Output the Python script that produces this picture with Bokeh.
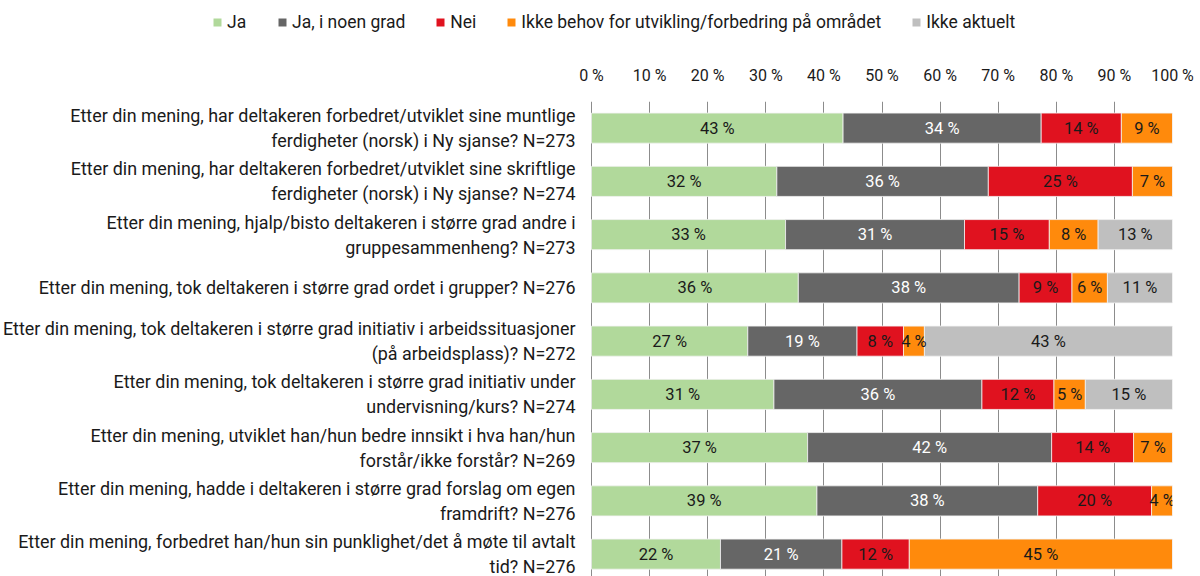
from bokeh.plotting import figure
from bokeh.layouts import column
from bokeh.models import ColumnDataSource, Range1d, FixedTicker, Legend, LegendItem, PrintfTickFormatter
from bokeh.core.properties import value
from bokeh.embed import file_html
from bokeh.resources import INLINE

questions = [
    "Etter din mening, har deltakeren forbedret/utviklet sine muntlige\nferdigheter (norsk) i Ny sjanse? N=273",
    "Etter din mening, har deltakeren forbedret/utviklet sine skriftlige\nferdigheter (norsk) i Ny sjanse? N=274",
    "Etter din mening, hjalp/bisto deltakeren i større grad andre i\ngruppesammenheng? N=273",
    "Etter din mening, tok deltakeren i større grad ordet i grupper? N=276",
    "Etter din mening, tok deltakeren i større grad initiativ i arbeidssituasjoner\n(på arbeidsplass)? N=272",
    "Etter din mening, tok deltakeren i større grad initiativ under\nundervisning/kurs? N=274",
    "Etter din mening, utviklet han/hun bedre innsikt i hva han/hun\nforstår/ikke forstår? N=269",
    "Etter din mening, hadde i deltakeren i større grad forslag om egen\nframdrift? N=276",
    "Etter din mening, forbedret han/hun sin punklighet/det å møte til avtalt\ntid? N=276",
]
series = ["Ja", "Ja, i noen grad", "Nei",
          "Ikke behov for utvikling/forbedring på området", "Ikke aktuelt"]
ja = [43.3, 31.9, 33.4, 35.6, 26.9, 31.4, 37.2, 38.8, 22.2]
ja_noen = [34.1, 36.4, 30.8, 38.0, 18.8, 35.8, 42.0, 38.0, 20.9]
nei = [13.8, 24.8, 14.6, 9.1, 8.0, 12.4, 14.1, 19.6, 11.6]
ikke_behov = [8.8, 6.9, 8.4, 6.1, 3.6, 5.4, 6.7, 3.6, 45.3]
ikke_aktuelt = [0, 0, 12.8, 11.2, 42.7, 15.0, 0, 0, 0]
x_ticks = [0, 10, 20, 30, 40, 50, 60, 70, 80, 90, 100]

colors = ["#b1d99b", "#666666", "#e0121f", "#ff8a0c", "#bfbfbf"]
label_colors = ["#1a1a1a", "#ffffff", "#1a1a1a", "#1a1a1a", "#1a1a1a"]
FONT = "Roboto"

n = len(questions)
ys = [n - 1 - i for i in range(n)]

W, H = 1200, 576
LEG_H = 44
FRAME_TOP = 101
RIGHT_B = 28
BAR_LEFT_PX = 591          # pixel where 0 % sits
frame_w = W - RIGHT_B
x_start = -100.0 * BAR_LEFT_PX / (frame_w - BAR_LEFT_PX)

# ---- main chart ----
p = figure(width=W, height=H - LEG_H, output_backend="svg", toolbar_location=None,
           x_range=Range1d(x_start, 100), y_range=Range1d(-0.42, n - 0.5),
           x_axis_location="above", y_axis_location=None,
           min_border_left=0, min_border_right=RIGHT_B, min_border_top=FRAME_TOP - LEG_H,
           min_border_bottom=0)

all_vals = [ja, ja_noen, nei, ikke_behov, ikke_aktuelt]
left = [0.0] * n
txt_x, txt_y, txt, txt_c = [], [], [], []
sources = []
for k, vals in enumerate(all_vals):
    right = [l + v for l, v in zip(left, vals)]
    src = ColumnDataSource(dict(y=ys, left=left, right=right))
    sources.append(src)
    p.hbar(y="y", left="left", right="right", height=0.565, source=src,
           fill_color=colors[k], line_color="#f2f2f2", line_width=0.8)
    for i in range(n):
        if vals[i] > 0:
            txt_x.append((left[i] + right[i]) / 2)
            txt_y.append(ys[i])
            txt.append(f"{vals[i]:.0f} %")
            txt_c.append(label_colors[k])
    left = right

lsrc = ColumnDataSource(dict(x=txt_x, y=txt_y, t=txt, c=txt_c))
p.text(x="x", y="y", text="t", text_color="c", source=lsrc, text_align="center",
       text_baseline="middle", text_font=value(FONT), text_font_size="16.5px")

# category labels (left of the 0 % line)
qsrc = ColumnDataSource(dict(x=[0] * n, y=ys, q=questions))
p.text(x="x", y="y", text="q", source=qsrc, x_offset=-16, text_align="right",
       text_baseline="middle", text_font=value(FONT), text_font_size="17.9px",
       text_color="#1a1a1a", text_line_height=1.2)

xa = p.xaxis[0]
xa.ticker = FixedTicker(ticks=x_ticks)
xa.formatter = PrintfTickFormatter(format="%d %%")
xa.axis_line_color = None
xa.major_tick_line_color = None
xa.minor_tick_line_color = None
xa.major_label_standoff = 11
xa.major_label_text_font = FONT
xa.major_label_text_font_size = "16px"
xa.major_label_text_color = "#1a1a1a"

p.xgrid.grid_line_color = "#8c8c8c"
p.xgrid.grid_line_width = 1
p.ygrid.grid_line_color = None
p.outline_line_color = None

# ---- legend strip on top ----
lf = figure(width=W, height=LEG_H, output_backend="svg", toolbar_location=None,
            x_range=Range1d(0, 1), y_range=Range1d(100, 101),
            x_axis_location=None, y_axis_location=None,
            min_border_left=0, min_border_right=RIGHT_B, min_border_top=0, min_border_bottom=0)
lf.xgrid.visible = False
lf.ygrid.visible = False
lf.outline_line_color = None
leg_items = []
for k in range(len(series)):
    r = lf.hbar(y="y", left="left", right="right", height=0.565, source=sources[k],
                fill_color=colors[k], line_color=None)
    leg_items.append(LegendItem(label=series[k], renderers=[r]))
legend = Legend(items=leg_items, orientation="horizontal", location=(212, 12),
                padding=0, margin=0, spacing=30, label_standoff=5,
                glyph_width=10, glyph_height=10, label_height=20,
                label_text_font=FONT, label_text_font_size="17.5px",
                label_text_color="#1a1a1a", border_line_color=None,
                background_fill_alpha=0)
lf.add_layout(legend, "center")

layout = column(lf, p, spacing=0)
open("out.html", "w").write(file_html(layout, INLINE))
